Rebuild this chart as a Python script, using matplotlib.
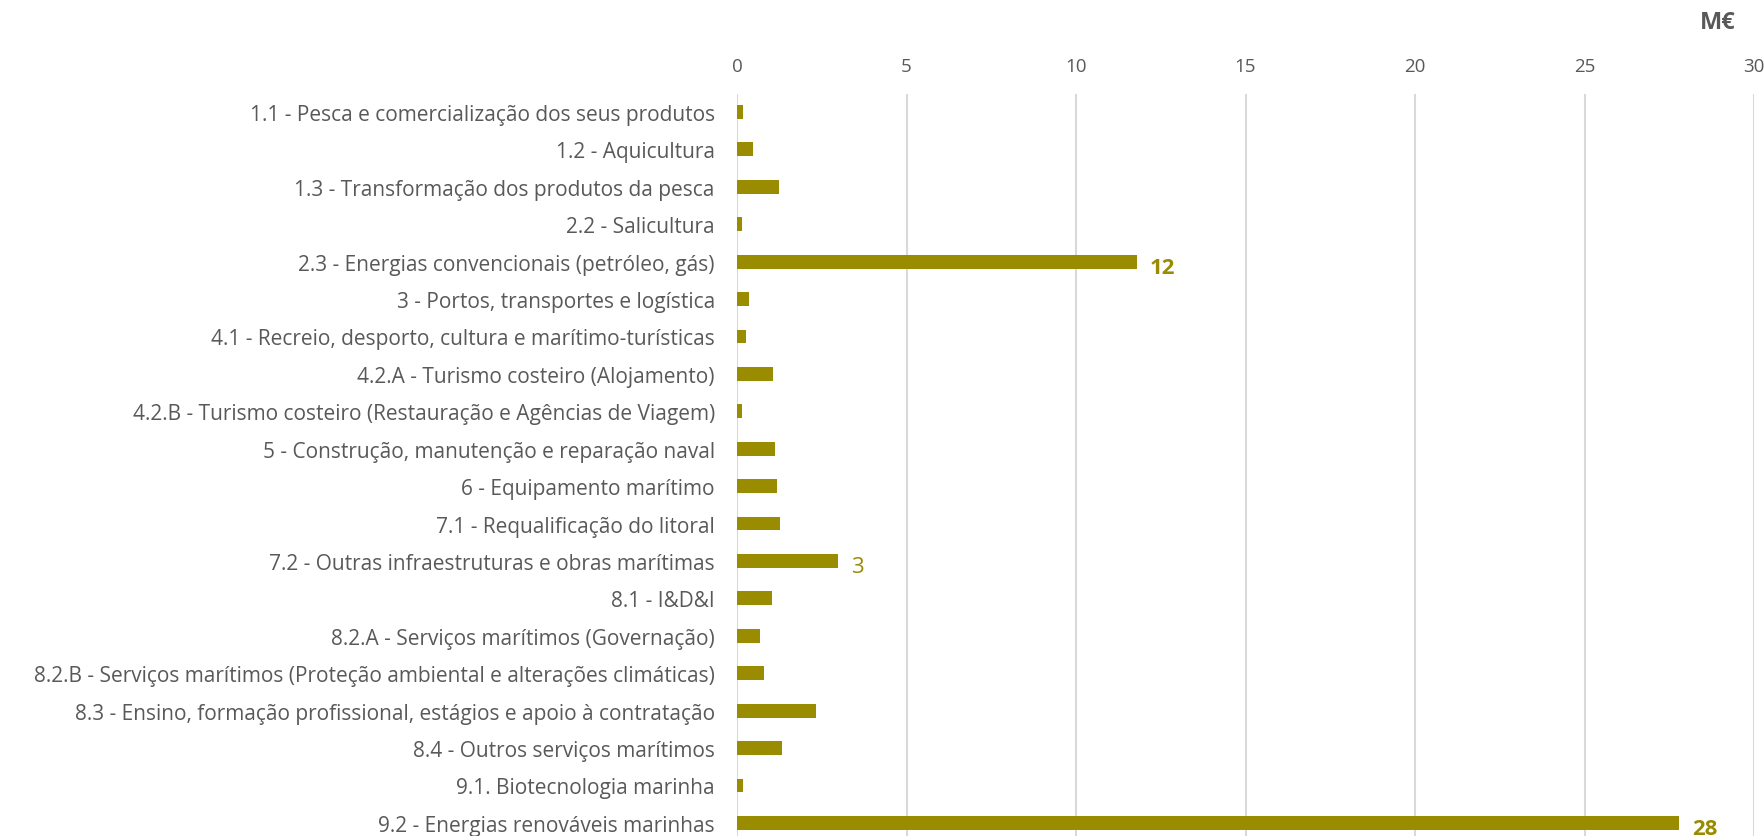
import numpy as np
import matplotlib.pyplot as plt

# dados (M€)
setores = [
    "1.1 - Pesca e comercialização dos seus produtos",
    "1.2 - Aquicultura",
    "1.3 - Transformação dos produtos da pesca",
    "2.2 - Salicultura",
    "2.3 - Energias convencionais (petróleo, gás)",
    "3 - Portos, transportes e logística",
    "4.1 - Recreio, desporto, cultura e marítimo-turísticas",
    "4.2.A - Turismo costeiro (Alojamento)",
    "4.2.B - Turismo costeiro (Restauração e Agências de Viagem)",
    "5 - Construção, manutenção e reparação naval",
    "6 - Equipamento marítimo",
    "7.1 - Requalificação do litoral",
    "7.2 - Outras infraestruturas e obras marítimas",
    "8.1 - I&D&I",
    "8.2.A - Serviços marítimos (Governação)",
    "8.2.B - Serviços marítimos (Proteção ambiental e alterações climáticas)",
    "8.3 - Ensino, formação profissional, estágios e apoio à contratação",
    "8.4 - Outros serviços marítimos",
    "9.1. Biotecnologia marinha",
    "9.2 - Energias renováveis marinhas",
]
valores = [0.18, 0.47, 1.24, 0.15, 11.8, 0.35, 0.27, 1.05, 0.16, 1.13,
           1.19, 1.26, 2.99, 1.02, 0.69, 0.8, 2.33, 1.33, 0.17, 27.8]
rotulos = {4: ("12", "bold"), 12: ("3", "normal"), 19: ("28", "bold")}

cor = "#998C00"
cinza = "#595959"
plt.rcParams['font.family'] = ['Open Sans', 'DejaVu Sans']

fig = plt.figure(figsize=(17.64, 8.37), dpi=100)
ax = fig.add_axes([737/1764, 0, (1754-737)/1764, (837-95)/837])

y = np.arange(len(setores))
ax.barh(y, valores, height=0.37, color=cor, zorder=3)

ax.set_xlim(0, 30)
ax.set_ylim(19.35, -0.48)
ax.set_xticks(range(0, 31, 5))
ax.set_yticks(y)
ax.set_yticklabels(setores, fontsize=15, color=cinza)
ax.xaxis.tick_top()
ax.tick_params(axis='x', length=0, pad=14, labelsize=13.5, labelcolor=cinza)
ax.tick_params(axis='y', length=0, pad=16)
ax.grid(axis='x', color='#D9D9D9', linewidth=1.5, zorder=0)
for s in ax.spines.values():
    s.set_visible(False)

for i, (txt, w) in rotulos.items():
    ax.annotate(txt, (valores[i], y[i]), xytext=(9, -4), textcoords='offset points',
                ha='left', va='center', fontsize=16, color=cor, fontweight=w)

fig.text(1718/1764, 1 - 23/837, "M€", ha='center', va='center',
         fontsize=17, fontweight='bold', color=cinza)

fig.savefig("out.png", dpi=100)
